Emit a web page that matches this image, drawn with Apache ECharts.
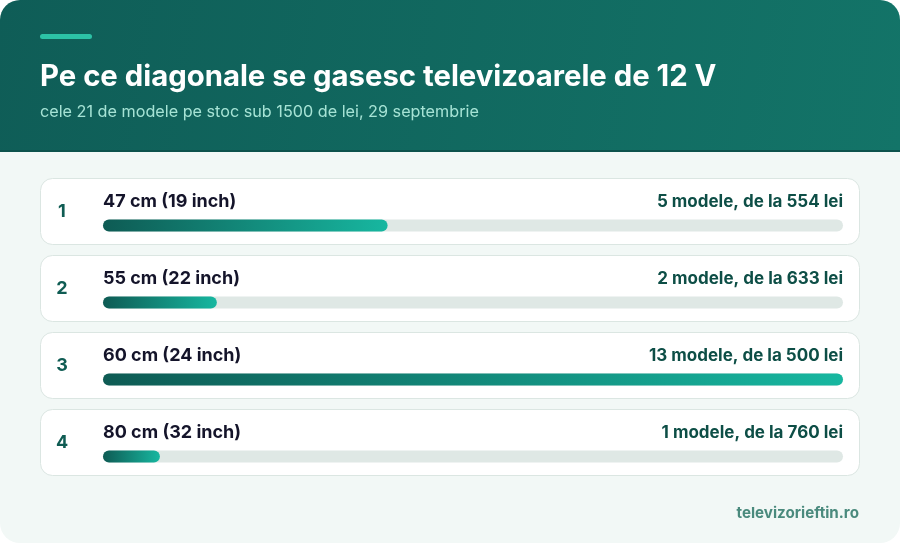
<!DOCTYPE html>
<html><head><meta charset="utf-8">
<script src="https://cdn.jsdelivr.net/npm/echarts@6/dist/echarts.min.js"></script>
<style>html,body{margin:0;padding:0;background:#fff}#c{width:900px;height:543px}</style>
</head><body><div id="c"></div>
<script>
var categories = ['47 cm (19 inch)', '55 cm (22 inch)', '60 cm (24 inch)', '80 cm (32 inch)'];
var counts = [5, 2, 13, 1];
var minPrices = [554, 633, 500, 760];
var titleText = 'Pe ce diagonale se gasesc televizoarele de 12 V';
var subtitleText = 'cele 21 de modele pe stoc sub 1500 de lei, 29 septembrie';
var footerText = 'televizorieftin.ro';

var chart = echarts.init(document.getElementById('c'), null, {renderer: 'canvas'});
var FONT = 'Inter, "Noto Sans", sans-serif';

var option = {
  animation: false,
  backgroundColor: 'transparent',
  grid: {left: 103, right: 57, top: 187, bottom: 48},
  xAxis: {type: 'value', min: 0, max: Math.max.apply(null, counts), show: false},
  yAxis: {type: 'category', data: categories, inverse: true, show: false},
  graphic: [
    {type: 'rect', z: -10, shape: {x: 0, y: 0, width: 900, height: 543, r: 20}, style: {fill: '#f2f8f6'}},
    {type: 'rect', z: -9, shape: {x: 0, y: 0, width: 900, height: 152, r: [20, 20, 0, 0]},
      style: {fill: new echarts.graphic.LinearGradient(0, 0, 1, 1, [{offset: 0, color: '#0f5d57'}, {offset: 1, color: '#137468'}])}},
    {type: 'rect', z: -8, shape: {x: 0, y: 150, width: 900, height: 2}, style: {fill: '#0d524c'}},
    {type: 'rect', z: -8, shape: {x: 40, y: 34, width: 52, height: 5, r: 2.5}, style: {fill: '#2cc2a6'}},
    {type: 'text', z: -7, style: {x: 40, y: 77, text: titleText, fill: '#ffffff', font: 'bold 29.3px ' + FONT, textVerticalAlign: 'middle'}},
    {type: 'text', z: -7, style: {x: 40, y: 112, text: subtitleText, fill: '#a6e3d5', font: '16.2px ' + FONT, textVerticalAlign: 'middle'}},
    {type: 'text', z: -7, style: {x: 859, y: 513, text: footerText, fill: '#4a8a7d', font: 'bold 15.2px ' + FONT, textAlign: 'right', textVerticalAlign: 'middle'}}
  ],
  series: [
    {
      type: 'custom',
      z: 1,
      clip: false,
      data: counts.map(function (v, i) { return [v, i]; }),
      renderItem: function (params, api) {
        var i = api.value(1);
        var cy = api.coord([0, i])[1];
        var left = 40, right = 859;
        return {
          type: 'group',
          children: [
            {type: 'rect', shape: {x: left + 0.5, y: cy - 47, width: right - left, height: 66, r: 12},
              style: {fill: '#ffffff', stroke: '#dbe6e2', lineWidth: 1}},
            {type: 'text', style: {x: 62, y: cy - 13.5, text: String(i + 1), fill: '#0f5c53', font: 'bold 18px ' + FONT, textAlign: 'center', textVerticalAlign: 'middle'}},
            {type: 'text', style: {x: 103, y: cy - 23.5, text: categories[i], fill: '#14142a', font: 'bold 18px ' + FONT, textAlign: 'left', textVerticalAlign: 'middle'}},
            {type: 'text', style: {x: 843, y: cy - 23.5, text: counts[i] + ' modele, de la ' + minPrices[i] + ' lei', fill: '#0d4e46', font: 'bold 17px ' + FONT, textAlign: 'right', textVerticalAlign: 'middle'}}
          ]
        };
      }
    },
    {
      type: 'bar',
      z: 2,
      data: counts,
      barWidth: 12,
      showBackground: true,
      backgroundStyle: {color: '#dfe8e5', borderRadius: 6},
      itemStyle: {
        borderRadius: 6,
        color: new echarts.graphic.LinearGradient(0, 0, 1, 0, [{offset: 0, color: '#0e5b54'}, {offset: 1, color: '#17b7a0'}])
      }
    }
  ]
};
chart.setOption(option);
</script></body></html>
